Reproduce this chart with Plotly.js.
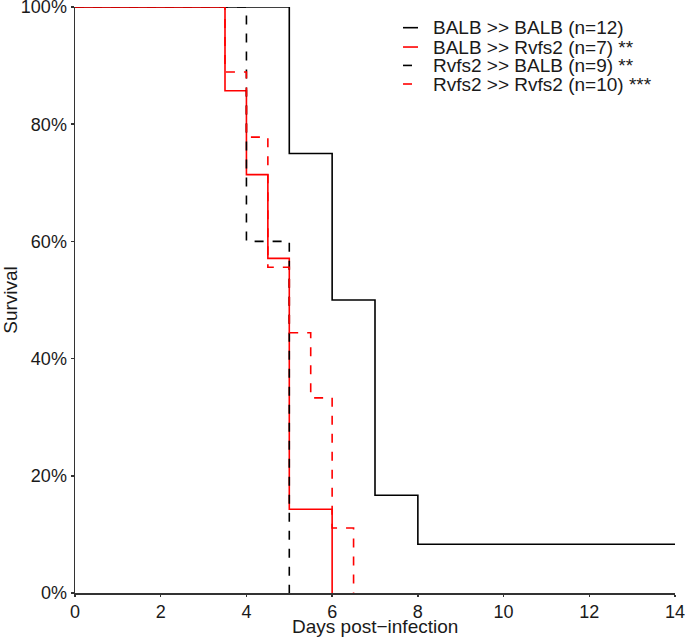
<!DOCTYPE html>
<html>
<head>
<meta charset="utf-8">
<script src="https://cdn.plot.ly/plotly-3.0.1.min.js"></script>
<style>html,body{margin:0;padding:0;background:#fff;}#chart{width:685px;height:638px;}</style>
</head>
<body>
<div id="chart"></div>
<script>
// Series names
const seriesNames = [
  "BALB >> BALB (n=12)",
  "BALB >> Rvfs2 (n=7) **",
  "Rvfs2 >> BALB (n=9) **",
  "Rvfs2 >> Rvfs2 (n=10) ***"
];
const seriesColors = ["#000000", "#ff0000", "#000000", "#ff0000"];
const seriesDash = ["solid", "solid", "dash", "dash"];

// Step-curve time points (days) and survival fractions
const balbBalbDays = [0, 5, 6, 7, 8, 14];
const balbBalbSurv = [1.0, 0.75, 0.50, 0.1667, 0.0833, 0.0833];

const balbRvfsDays = [0, 3.5, 4, 4.5, 5, 6];
const balbRvfsSurv = [1.0, 0.857, 0.714, 0.571, 0.143, 0.0];

const rvfsBalbDays = [0, 4, 5];
const rvfsBalbSurv = [1.0, 0.60, 0.0];

const rvfsRvfsDays = [0, 3.5, 4, 4.5, 5, 5.5, 6, 6.5];
const rvfsRvfsSurv = [1.0, 0.889, 0.778, 0.556, 0.444, 0.333, 0.111, 0.0];

const xTicks = [0, 2, 4, 6, 8, 10, 12, 14];
const yTicks = [0, 0.2, 0.4, 0.6, 0.8, 1.0];
const xTitle = "Days post\u2212infection";
const yTitle = "Survival";

const seriesX = [balbBalbDays, balbRvfsDays, rvfsBalbDays, rvfsRvfsDays];
const seriesY = [balbBalbSurv, balbRvfsSurv, rvfsBalbSurv, rvfsRvfsSurv];

const traces = seriesNames.map((n, i) => ({
  type: "scatter", mode: "lines", x: seriesX[i], y: seriesY[i], name: n,
  line: {shape: "hv", color: seriesColors[i], dash: seriesDash[i], width: 1.6},
  hoverinfo: "skip", showlegend: false
}));

const font = {family: "Liberation Sans, Arial, sans-serif", color: "#1a1a1a"};

// Manual legend (compact, like the reference)
const legX0 = 0.5467, legX1 = 0.5717, legTextX = 0.5925;
const legY = [0.9647, 0.9317, 0.9003, 0.8686];
const shapes = seriesNames.map((n, i) => ({
  type: "line", xref: "paper", yref: "paper",
  x0: legX0, x1: legX1, y0: legY[i], y1: legY[i],
  line: {color: seriesColors[i], dash: seriesDash[i], width: 1.6}
}));
const annotations = seriesNames.map((n, i) => ({
  xref: "paper", yref: "paper", x: legTextX, y: legY[i],
  xanchor: "left", yanchor: "middle", showarrow: false,
  text: n, font: Object.assign({}, font, {size: 19})
}));
// x-axis title placed as an annotation for exact positioning
annotations.push({
  xref: "paper", yref: "paper", x: 0.5, y: -0.0575,
  xanchor: "center", yanchor: "middle", showarrow: false, borderpad: 0,
  text: xTitle, font: Object.assign({}, font, {size: 19})
});

const layout = {
  width: 685, height: 638,
  margin: {l: 75, r: 10, t: 7, b: 45},
  paper_bgcolor: "#ffffff", plot_bgcolor: "#ffffff",
  showlegend: false,
  shapes: shapes,
  annotations: annotations,
  xaxis: {
    range: [0, 14], tickvals: xTicks, ticktext: xTicks.map(String),
    showgrid: false, zeroline: false, showline: true, linecolor: "#333333", linewidth: 1.5,
    ticks: "outside", ticklen: 2, tickcolor: "#333333", tickwidth: 1.5,
    tickfont: Object.assign({}, font, {size: 18}),
    ticklabeloverflow: "allow"
  },
  yaxis: {
    range: [0, 1], tickvals: yTicks, tickformat: ".0%",
    showgrid: false, zeroline: false, showline: true, linecolor: "#333333", linewidth: 1.5,
    ticks: "outside", ticklen: 3, tickcolor: "#333333", tickwidth: 1.5,
    tickfont: Object.assign({}, font, {size: 18}),
    ticklabeloverflow: "allow",
    title: {text: yTitle, font: Object.assign({}, font, {size: 19}), standoff: 6}
  }
};

Plotly.newPlot("chart", traces, layout, {displayModeBar: false, staticPlot: true});
</script>
</body>
</html>
